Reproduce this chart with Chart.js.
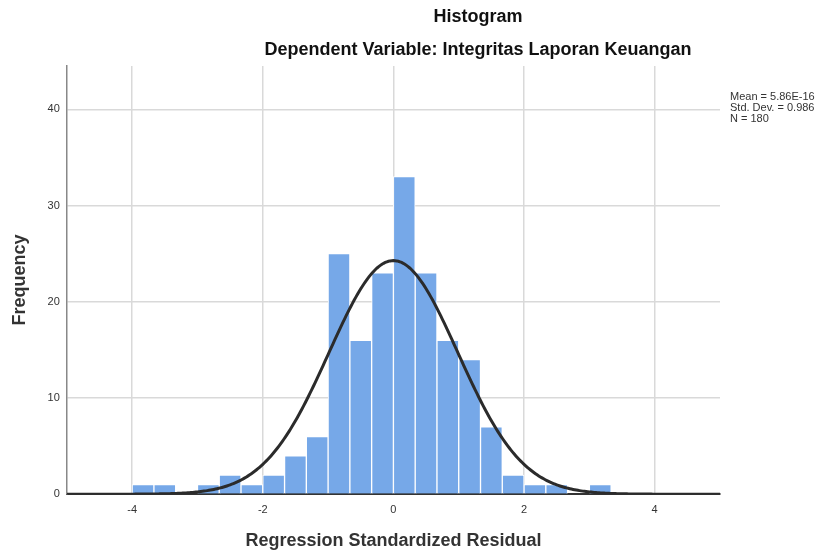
<!DOCTYPE html>
<html>
<head>
<meta charset="utf-8">
<script src="https://cdn.jsdelivr.net/npm/chart.js@4.4.1/dist/chart.umd.min.js"></script>
<style>
  html, body { margin: 0; padding: 0; background: #fff; }
  #wrap { width: 826px; height: 553px; position: relative; }
</style>
</head>
<body>
<div id="wrap"><canvas id="histChart"></canvas></div>
<script>
// bin kiri tiap batang (lebar 1/3)
const binWidth = 1 / 3;
const binStarts = [-4, -11/3, -10/3, -3, -8/3, -7/3, -2, -5/3, -4/3, -1, -2/3, -1/3,
                   0, 1/3, 2/3, 1, 4/3, 5/3, 2, 7/3, 8/3, 3];
const frequencies = [1, 1, 0, 1, 2, 1, 2, 4, 6, 25, 16, 23,
                     33, 23, 16, 14, 7, 2, 1, 1, 0, 1];
const xTicks = [-4, -2, 0, 2, 4];
const yTicks = [0, 10, 20, 30, 40];

// statistik yang tertulis di grafik
const mean = 5.86e-16;
const stdDev = 0.986;
const nTotal = 180;
const statLines = ['Mean = 5.86E-16', 'Std. Dev. = 0.986', 'N = 180'];

const judul = 'Histogram';
const subJudul = 'Dependent Variable: Integritas Laporan Keuangan';

// data batang (titik tengah bin)
const barData = binStarts.map((s, i) => ({ x: s + binWidth / 2, y: frequencies[i] }));

// kurva normal dari mean, std dev, N
const curveData = [];
for (let i = 0; i <= 400; i++) {
    const x = -5 + i * 0.025;
    const z = (x - mean) / stdDev;
    const y = nTotal * binWidth / (stdDev * Math.sqrt(2 * Math.PI)) * Math.exp(-0.5 * z * z);
    curveData.push({ x: x, y: y });
}

// plugin untuk judul dan keterangan statistik
const teksPlugin = {
    id: 'teksPlugin',
    afterDraw(chart) {
        const ctx = chart.ctx;
        ctx.save();
        ctx.fillStyle = '#111';
        ctx.textAlign = 'center';
        ctx.textBaseline = 'middle';
        ctx.font = 'bold 18px "Liberation Sans", Arial, sans-serif';
        ctx.fillText(judul, 478, 17);
        ctx.fillText(subJudul, 478, 50);

        ctx.fillStyle = '#333';
        ctx.textAlign = 'left';
        ctx.font = '11px "Liberation Sans", Arial, sans-serif';
        statLines.forEach((t, i) => ctx.fillText(t, 730, 97 + i * 11));
        ctx.restore();
    }
};

const ctx = document.getElementById('histChart').getContext('2d');
const myHistChart = new Chart(ctx, {
    type: 'bar',
    data: {
        datasets: [{
            type: 'line',
            data: curveData,
            borderColor: '#2b2b2b',
            borderWidth: 3,
            pointRadius: 0,
            tension: 0,
            order: 0
        }, {
            type: 'bar',
            data: barData,
            backgroundColor: '#76a8e8',
            borderColor: '#ffffff',
            borderWidth: 1,
            barPercentage: 1,
            categoryPercentage: 1,
            order: 1
        }]
    },
    options: {
        responsive: true,
        maintainAspectRatio: false,
        animation: false,
        layout: { padding: { top: 66, right: 106, left: 5, bottom: 0 } },
        plugins: {
            legend: { display: false },
            tooltip: { enabled: false }
        },
        scales: {
            x: {
                type: 'linear',
                min: -5,
                max: 5,
                offset: false,
                afterBuildTicks: (axis) => { axis.ticks = xTicks.map(v => ({ value: v })); },
                grid: { color: '#d9d9d9', lineWidth: 1.5, drawTicks: false, offset: false },
                border: { color: '#333', width: 2 },
                ticks: {
                    color: '#333',
                    padding: 9,
                    font: { family: '"Liberation Sans", Arial, sans-serif', size: 11 }
                },
                title: {
                    display: true,
                    text: 'Regression Standardized Residual',
                    color: '#333',
                    padding: { top: 5, bottom: 1 },
                    font: { family: '"Liberation Sans", Arial, sans-serif', size: 18, weight: 'bold' }
                }
            },
            y: {
                min: 0,
                max: 44.5,
                afterBuildTicks: (axis) => { axis.ticks = yTicks.map(v => ({ value: v })); },
                grid: { color: '#d9d9d9', lineWidth: 1.5, drawTicks: false },
                border: { color: '#888', width: 1.5 },
                ticks: {
                    color: '#333',
                    padding: 7,
                    font: { family: '"Liberation Sans", Arial, sans-serif', size: 11 }
                },
                title: {
                    display: true,
                    text: 'Frequency',
                    color: '#333',
                    padding: { top: 4, bottom: 10 },
                    font: { family: '"Liberation Sans", Arial, sans-serif', size: 18, weight: 'bold' }
                }
            }
        }
    },
    plugins: [teksPlugin]
});
</script>
</body>
</html>
